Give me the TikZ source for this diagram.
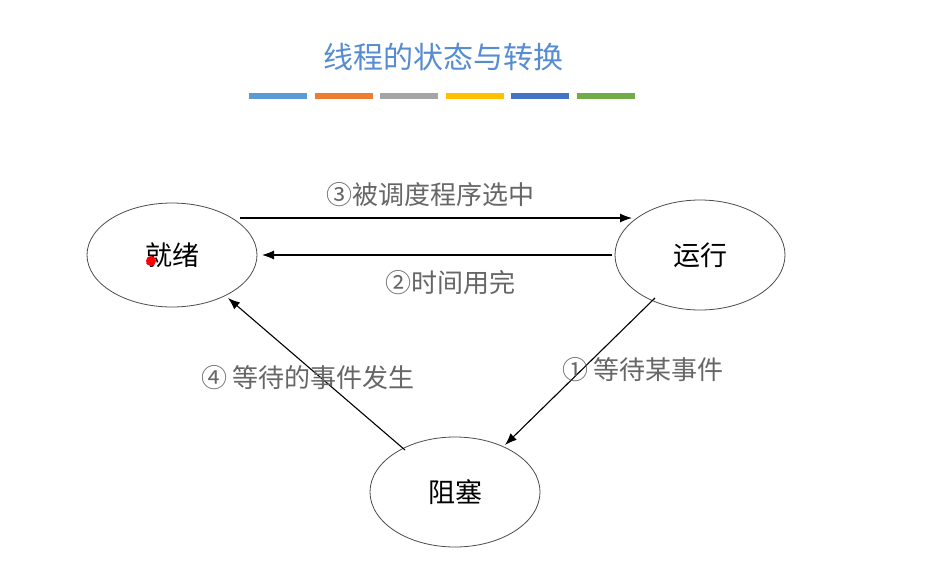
\documentclass[tikz,border=0pt]{standalone}
\usepackage{fontspec}
\usetikzlibrary{shapes.geometric,arrows.meta}
\setmainfont{Noto Sans CJK SC}
\begin{document}
\begin{tikzpicture}[x=1pt,y=-1pt,
  st/.style={draw=black!70,line width=0.8pt,ellipse,minimum width=170pt,minimum height=104pt,font=\fontsize{27}{30}\selectfont},
  ar/.style={-{Latex[length=12pt,width=9pt]},line width=1.1pt},
  lb/.style={text=black!60,font=\fontsize{26}{30}\selectfont}]
\useasboundingbox (0,0) rectangle (938,584);
\fill[white] (0,0) rectangle (938,584);
\node[text=cyan!50!blue!70!white,font=\fontsize{30}{34}\selectfont] (title) at (443,57) {线程的状态与转换};
\foreach \c/\i in {5B9BD5/0,ED7D31/1,A5A5A5/2,FFC000/3,4472C4/4,70AD47/5}{
  \definecolor{bar\i}{HTML}{\c}
  \fill[bar\i] (249+\i*65.5,93) rectangle ++(58,6);
}
\node[st] (ready) at (172,255) {就绪};
\node[st,minimum height=110pt] (run) at (700,255) {运行};
\node[st,minimum height=110pt] (block) at (455,492) {阻塞};
\coordinate (a1) at (240,218); \coordinate (a2) at (632,218);
\coordinate (b1) at (612,255); \coordinate (b2) at (262,255);
\coordinate (c1) at (655,298); \coordinate (c2) at (505,445);
\coordinate (d1) at (405,450); \coordinate (d2) at (228,298);
\draw[ar] (a1) -- (a2);
\draw[ar] (b1) -- (b2);
\draw[ar] (c1) -- (c2);
\draw[ar] (d1) -- (d2);
\node[lb] (l3) at (430,195) {③被调度程序选中};
\node[lb] (l2) at (450,283) {②时间用完};
\node[lb] (l1) at (643,370) {① 等待某事件};
\node[lb] (l4) at (308,378) {④ 等待的事件发生};
\fill[red] (151,261) circle (5pt);
\end{tikzpicture}
\end{document}
